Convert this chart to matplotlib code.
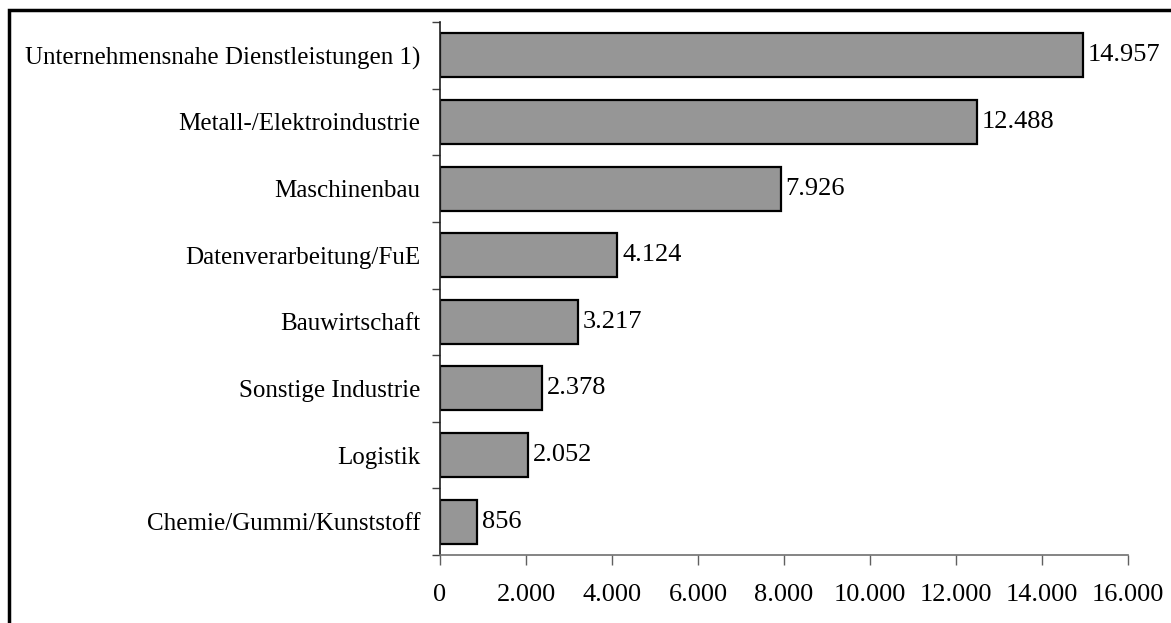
import numpy as np
import matplotlib
matplotlib.use("Agg")
import matplotlib.pyplot as plt
from matplotlib.patches import Rectangle

categories = [
    "Unternehmensnahe Dienstleistungen 1)",
    "Metall-/Elektroindustrie",
    "Maschinenbau",
    "Datenverarbeitung/FuE",
    "Bauwirtschaft",
    "Sonstige Industrie",
    "Logistik",
    "Chemie/Gummi/Kunststoff",
]
values = [14957, 12488, 7926, 4124, 3217, 2378, 2052, 856]
value_labels = ["14.957", "12.488", "7.926", "4.124", "3.217", "2.378", "2.052", "856"]
xticks = [0, 2000, 4000, 6000, 8000, 10000, 12000, 14000, 16000]
xtick_labels = ["0", "2.000", "4.000", "6.000", "8.000", "10.000", "12.000", "14.000", "16.000"]

plt.rcParams['font.family'] = ['Liberation Serif', 'DejaVu Serif']

fig = plt.figure(figsize=(11.71, 6.23), dpi=100)
ax = fig.add_axes([440 / 1171, 1 - 555 / 623, 688 / 1171, 533 / 623])

y = np.arange(len(categories))
ax.barh(y, values, height=0.66, color="#969696", edgecolor="black", linewidth=1.6)

for yi, v, lab in zip(y, values, value_labels):
    ax.text(v + 110, yi, lab, va="center", ha="left", fontsize=19)

ax.set_ylim(len(categories) - 0.5, -0.5)
ax.set_xlim(0, 16000)

# y ticks at the category borders, labels in between
ax.set_yticks(np.arange(-0.5, len(categories), 1.0))
ax.set_yticklabels([])
ax.set_yticks(y, minor=True)
ax.set_yticklabels(categories, minor=True, fontsize=18)
ax.tick_params(axis="y", which="major", direction="out", length=6, width=1, color="#404040")
ax.tick_params(axis="y", which="minor", length=0, pad=14)

ax.set_xticks(xticks)
ax.set_xticklabels(xtick_labels, fontsize=19)
ax.tick_params(axis="x", direction="out", length=7, width=1, color="#606060", pad=14)

for s in ["top", "right"]:
    ax.spines[s].set_visible(False)
ax.spines["left"].set_color("#202020")
ax.spines["left"].set_linewidth(1.2)
ax.spines["bottom"].set_color("#707070")
ax.spines["bottom"].set_linewidth(1.2)

# frame around the whole chart (right and bottom edges fall outside the image)
fig.patches.append(Rectangle((9 / 1171, -0.05), 1.2, 1 - 10 / 623 + 0.05,
                             transform=fig.transFigure, fill=False,
                             edgecolor="black", linewidth=2.5))

fig.savefig("out.png", dpi=100)
